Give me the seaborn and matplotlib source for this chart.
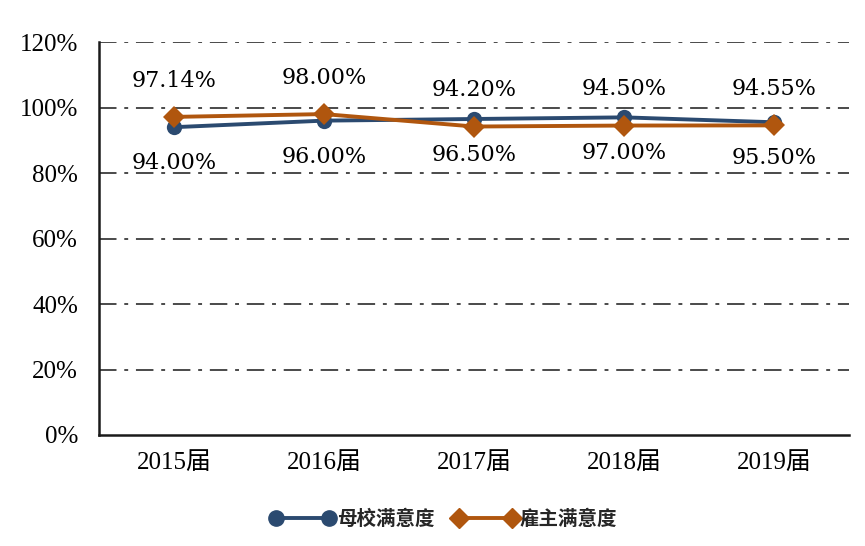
import numpy as np
import pandas as pd
import seaborn as sns
import matplotlib
matplotlib.use('Agg')
import matplotlib.pyplot as plt
from matplotlib.ticker import FixedLocator, NullFormatter, FuncFormatter

# dati
anni = ['2015届', '2016届', '2017届', '2018届', '2019届']
scuola = [94.00, 96.00, 96.50, 97.00, 95.50]      # 母校满意度
datori = [97.14, 98.00, 94.20, 94.50, 94.55]      # 雇主满意度
serie = ['母校满意度', '雇主满意度']
colori = ['#2B4A70', '#B0560E']

df = pd.DataFrame({
    'anno': anni * 2,
    'valore': scuola + datori,
    'serie': [serie[0]] * len(anni) + [serie[1]] * len(anni),
})

sns.set_style('white')
plt.rcParams['font.family'] = ['Liberation Serif', 'Noto Sans CJK SC', 'DejaVu Sans']

fig = plt.figure(figsize=(8.65, 5.46), dpi=100)
ax = fig.add_axes([0.1145, 0.2033, 0.867, 0.7197])

sns.lineplot(data=df, x='anno', y='valore', hue='serie', style='serie',
             palette=colori, markers=['o', 'D'], dashes=False, sort=False,
             linewidth=2.8, markersize=11, markeredgewidth=0, ax=ax, legend=False)

ax.set_xlim(-0.5, len(anni) - 0.5)
ax.set_ylim(0, 120)
ax.set_xlabel('')
ax.set_ylabel('')

# asse y
ax.set_yticks(np.arange(0, 121, 20))
ax.yaxis.set_major_formatter(FuncFormatter(lambda v, p: f'{int(v)}%'))
ax.tick_params(axis='y', direction='inout', length=12, width=1.6, labelsize=18, pad=9,
               labelcolor='black')
for y in np.arange(20, 121, 20):
    ax.axhline(y, color='#4a4a4a', lw=1.4, dashes=(9, 4, 2, 4), zorder=0)

# asse x: tacche ai confini, etichette al centro
ax.xaxis.set_major_locator(FixedLocator(np.arange(-0.5, len(anni), 1)))
ax.xaxis.set_major_formatter(NullFormatter())
ax.xaxis.set_minor_locator(FixedLocator(np.arange(len(anni))))
ax.set_xticklabels(anni, minor=True)
ax.tick_params(axis='x', which='major', direction='out', length=7, width=1.6)
ax.tick_params(axis='x', which='minor', length=0, labelsize=18, pad=12, labelcolor='black')

for s in ['top', 'right']:
    ax.spines[s].set_visible(False)
for s in ['left', 'bottom']:
    ax.spines[s].set_color('#1a1a1a')
    ax.spines[s].set_linewidth(1.8)

# etichette dei valori
for i in range(len(anni)):
    ax.annotate(f'{datori[i]:.2f}%', (i, datori[i]), xytext=(0, 26),
                textcoords='offset points', ha='center', va='center',
                fontsize=16, family=['DejaVu Serif'], color='black')
    ax.annotate(f'{scuola[i]:.2f}%', (i, scuola[i]), xytext=(0, -26),
                textcoords='offset points', ha='center', va='center',
                fontsize=16, family=['DejaVu Serif'], color='black')

# legenda
handles = [plt.Line2D([], [], color=colori[0], lw=2.8, marker='o', markersize=11),
           plt.Line2D([], [], color=colori[1], lw=2.8, marker='D', markersize=10)]
fig.legend(handles, serie, loc='center', bbox_to_anchor=(0.513, 0.049), ncol=2,
           frameon=False, numpoints=2, handlelength=3.3, handletextpad=0.1,
           columnspacing=1.0, prop={'family': 'Noto Sans CJK SC', 'weight': 'bold', 'size': 14})

fig.savefig('out.png', dpi=100)
